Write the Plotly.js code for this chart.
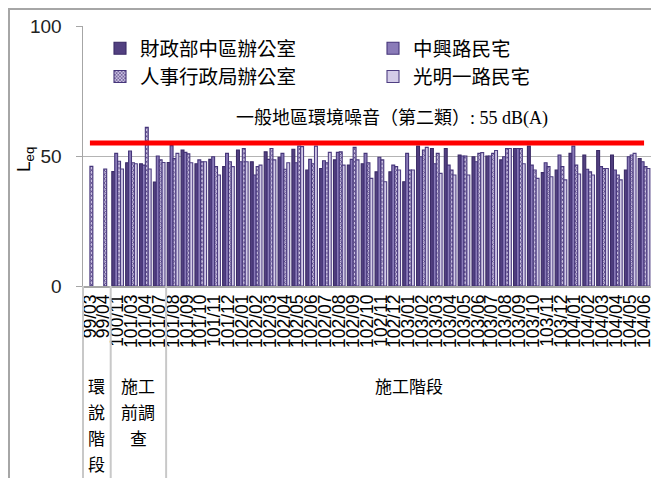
<!DOCTYPE html>
<html>
<head>
<meta charset="utf-8">
<script src="https://cdn.plot.ly/plotly-3.0.1.min.js"></script>
<style>
  html, body { margin: 0; padding: 0; background: #fff; overflow: hidden; }
  #chart { width: 651px; height: 478px; position: relative; }
  #frame { position: absolute; left: 8px; top: 8px; width: 700px; height: 500px;
           border-left: 2px solid #a6a6a6; border-top: 2px solid #a6a6a6; pointer-events: none; }
</style>
</head>
<body>
<div id="chart"></div>
<div id="frame"></div>
<script>
// ---- data ----
const categories = ['99/03','99/04','100/11','101/03','101/04','101/07','101/08','101/09','101/10','101/11','101/12',
  '102/01','102/02','102/03','102/04','102/05','102/06','102/07','102/08','102/09','102/10','102/11','102/12',
  '103/01','103/02','103/03','103/04','103/05','103/06','103/07','103/08','103/09','103/10','103/11','103/12',
  '104/01','104/02','104/03','104/04','104/05','104/06'];

const seriesNames = ['財政部中區辦公室', '中興路民宅', '人事行政局辦公室', '光明一路民宅'];

const caizheng = [null,null,44,47.4,47,40,47.5,52.3,47,48.7,45.9,52.3,47.8,51.6,49.5,52.6,44.6,45.2,48.5,46.5,47,43.9,43.9,
  40.1,53.8,52.9,52.9,50.4,49.7,50,48.5,52.9,53.8,43.6,44.6,51,50.4,52.1,50.4,44.6,49];
const zhongxing = [null,null,51,51.9,46.5,50,54,51.4,48.5,49.7,51,47.8,42.7,48.7,51,47.4,48.7,48.2,51.4,48.7,51,49.5,46.5,
  51,49.7,47,46.5,50,47.8,50,49.7,52.9,46.5,47.4,50.4,53.8,44.9,45.9,44.6,49.7,47.8];
const renshi = [46,45,48,47.4,61,48.5,49,50.8,47.8,45.9,47.8,52.9,45.9,52.9,44.9,53.8,47,47.4,51.6,53.3,47.4,48.5,45.9,
  44.6,52.3,51,44.6,50,51,51,52.9,52.9,44.6,45.9,45.9,46.5,43.9,45.2,42.7,50.4,45.9];
const guangming = [null,null,45,47,45,47.5,51,47.4,47.8,42.7,45.9,47.8,46.5,48.5,47.4,53.6,53.8,51.4,46.5,48.5,41.4,40.1,44.6,
  44.6,53.3,43.3,42.7,42.7,51.3,52.1,52.9,47,41.4,42,40.8,43.1,42.7,45.2,40.8,51,45.2];

const limitValue = 55;
const limitLabel = '一般地區環境噪音（第二類）';
const limitUnit = ': 55 dB(A)';

const yTicks = [0, 50, 100];
const yTitle = 'L<sub>eq</sub>';
const groupLines = [['環','說','階','段'], ['施工','前調','查'], ['施工階段']];
const groupRanges = [[0, 1], [2, 5], [6, 40]];

// ---- layout helpers ----
const W = 651, H = 478;
const M = {l: 83, r: 0, t: 26, b: 192};
const plotW = W - M.l - M.r, plotH = H - M.t - M.b;
const px2x = px => (px - M.l) / plotW;
const px2y = py => 1 - (py - M.t) / plotH;
const nCat = categories.length;
const cat2paper = c => (c + 0.5) / nCat;

const styles = [
  {color: '#524080', line: '#3a2a66', pattern: null},
  {color: '#8a7bb8', line: '#45357a', pattern: null},
  {color: '#cbc2e2', line: '#45357a', pattern: {shape: 'x', fgcolor: '#5b4987', bgcolor: '#cbc2e2', size: 3, solidity: 0.45}},
  {color: '#d4cce8', line: '#4e3e82', pattern: null}
];
const series = [caizheng, zhongxing, renshi, guangming];

const traces = series.map((vals, i) => {
  const m = {color: styles[i].color, line: {color: styles[i].line, width: 1.1}};
  if (styles[i].pattern) m.pattern = styles[i].pattern;
  return {type: 'bar', name: seriesNames[i], x: categories, y: vals, marker: m};
});

traces.push({
  type: 'scatter', mode: 'lines', showlegend: false, hoverinfo: 'skip',
  x: [categories[0], categories[nCat - 1]], y: [limitValue, limitValue],
  line: {color: '#ff0000', width: 5}
});

const cjk = '"Noto Sans CJK TC", "Noto Sans CJK SC", sans-serif';
const annotations = [{
  xref: 'paper', yref: 'paper', x: px2x(392), y: px2y(116), xanchor: 'center', yanchor: 'middle',
  showarrow: false,
  text: limitLabel + '<span style="font-family:\'Liberation Serif\', serif">' + limitUnit + '</span>',
  font: {family: cjk, size: 18, color: '#000'}
}, {
  xref: 'paper', yref: 'paper', x: px2x(25), y: px2y(160), xanchor: 'center', yanchor: 'middle',
  showarrow: false, textangle: -90, text: yTitle,
  font: {family: '"Liberation Sans", Arial, sans-serif', size: 19, color: '#000'}
}];

const lineSpacing = 26;
groupLines.forEach((lines, g) => {
  const center = (groupRanges[g][0] + groupRanges[g][1]) / 2;
  lines.forEach((t, k) => {
    annotations.push({
      xref: 'paper', yref: 'paper', x: cat2paper(center), y: px2y(385 + k * lineSpacing),
      xanchor: 'center', yanchor: 'middle', showarrow: false, text: t,
      font: {family: cjk, size: 17, color: '#000'}
    });
  });
});

const shapes = [];
groupRanges.forEach((r, g) => {
  if (g === 0) return;
  shapes.push({type: 'line', xref: 'paper', yref: 'paper', x0: r[0] / nCat, x1: r[0] / nCat,
    y0: 0, y1: px2y(H + 5), line: {color: '#c8c8c8', width: 2}});
});
shapes.push({type: 'line', xref: 'paper', yref: 'paper', x0: 0, x1: 0,
  y0: 0, y1: px2y(H + 5), line: {color: '#c8c8c8', width: 2}});

const layout = {
  width: W, height: H,
  margin: M,
  paper_bgcolor: 'rgba(0,0,0,0)', plot_bgcolor: 'rgba(0,0,0,0)',
  barmode: 'group', bargap: 0.16, bargroupgap: 0,
  showlegend: true,
  legend: {
    orientation: 'h', x: px2x(100), y: px2y(29), xanchor: 'left', yanchor: 'top',
    entrywidth: 228, entrywidthmode: 'pixels', bgcolor: 'rgba(0,0,0,0)',
    font: {family: cjk, size: 19.5, color: '#000'}, traceorder: 'normal', itemwidth: 30
  },
  xaxis: {
    type: 'category', range: [-0.5, nCat - 0.5], tickmode: 'array', tickvals: categories, ticktext: categories,
    tickangle: -90, tickfont: {family: '"Liberation Sans", Arial, sans-serif', size: 17.5, color: '#000'},
    showline: true, linecolor: '#a6a6a6', linewidth: 1.5, ticks: '', showgrid: false, zeroline: false,
    fixedrange: true
  },
  yaxis: {
    range: [0, 100], tickmode: 'array', tickvals: yTicks, ticktext: yTicks.map(String),
    tickfont: {family: '"Liberation Sans", Arial, sans-serif', size: 19, color: '#222'},
    ticks: 'outside', ticklen: 6, tickcolor: '#a6a6a6', ticklabelstandoff: 10,
    showline: true, linecolor: '#a6a6a6', linewidth: 1.5,
    showgrid: true, gridcolor: '#b4b4b4', gridwidth: 1, zeroline: false
  },
  annotations: annotations,
  shapes: shapes
};

Plotly.newPlot('chart', traces, layout, {displayModeBar: false, staticPlot: true});
</script>
</body>
</html>
